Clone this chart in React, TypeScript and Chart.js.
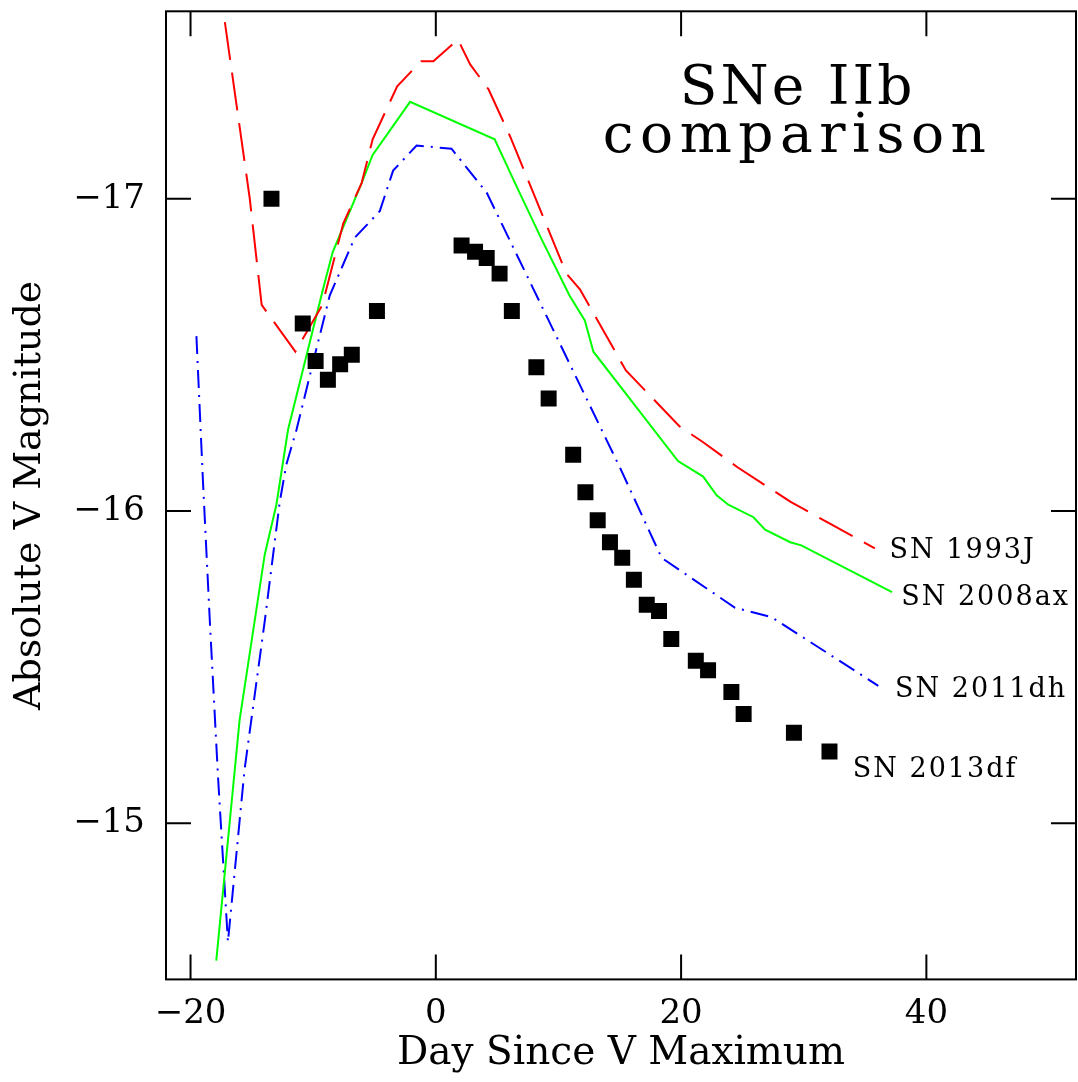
import React, { useEffect, useRef } from 'react';
import { Chart, registerables } from 'chart.js';

Chart.register(...registerables);

// SN 1993J (red dashed)
const sn1993jDays = [-17.2, -15.17, -14.2, -11.45, -9.25, -7.55, -6.05, -5.15, -3.15, -1.2, -0.2, 1.8, 2.8, 4.3, 6.05, 10.65, 11.75, 15.5, 19.9, 21.8, 24.6, 28.9, 32.1, 35.8];
const sn1993jMag = [-17.565, -17.0, -16.66, -16.51, -16.66, -16.92, -17.05, -17.19, -17.36, -17.44, -17.44, -17.51, -17.43, -17.35, -17.2, -16.76, -16.71, -16.45, -16.27, -16.22, -16.14, -16.03, -15.96, -15.88];

// SN 2008ax (green solid)
const sn2008axDays = [-17.9, -16.0, -13.95, -13.0, -12.05, -9.2, -8.4, -6.05, -5.15, -2.1, 4.8, 6.7, 8.75, 10.9, 12.15, 12.85, 19.75, 21.8, 22.9, 23.85, 25.9, 26.85, 28.9, 29.8, 37.2];
const sn2008axMag = [-14.56, -15.33, -15.86, -16.02, -16.26, -16.71, -16.83, -17.05, -17.14, -17.31, -17.19, -17.03, -16.86, -16.69, -16.61, -16.51, -16.16, -16.11, -16.05, -16.02, -15.98, -15.94, -15.9, -15.89, -15.74];

// SN 2011dh (blue dash-dot)
const sn2011dhDays = [-19.52, -18.98, -18.43, -17.76, -16.95, -15.6, -13.94, -12.72, -12.18, -11.36, -9.73, -8.65, -6.61, -4.57, -3.48, -1.57, 1.28, 4.14, 15.0, 18.41, 24.4, 27.38, 36.08];
const sn2011dhMag = [-16.56, -16.09, -15.65, -15.15, -14.62, -15.17, -15.65, -16.03, -16.15, -16.26, -16.52, -16.69, -16.875, -16.96, -17.09, -17.17, -17.16, -17.02, -16.14, -15.85, -15.69, -15.66, -15.44];

// SN 2013df (black squares)
const sn2013dfDays = [-13.4, -10.85, -9.8, -8.8, -7.8, -6.85, -4.8, 2.1, 3.2, 4.15, 5.2, 6.2, 8.2, 9.2, 11.2, 12.2, 13.2, 14.2, 15.2, 16.15, 17.2, 18.2, 19.2, 21.2, 22.2, 24.1, 25.1, 29.2, 32.1];
const sn2013dfMag = [-17.0, -16.6, -16.48, -16.42, -16.47, -16.5, -16.64, -16.85, -16.83, -16.81, -16.76, -16.64, -16.46, -16.36, -16.18, -16.06, -15.97, -15.9, -15.85, -15.78, -15.7, -15.68, -15.59, -15.52, -15.49, -15.42, -15.35, -15.29, -15.23];

// Text annotations
const curveLabels = ['SN 1993J', 'SN 2008ax', 'SN 2011dh', 'SN 2013df'];
const curveLabelDays = [37.0, 37.95, 37.45, 34.0];
const curveLabelMags = [-15.848, -15.698, -15.405, -15.147];
const titleLines = ['SNe IIb', 'comparison'];
const titleDay = 29.5;
const titleMags = [-17.303, -17.151];

// Tick labels
const xTickLabels = [-20, 0, 20, 40];
const yTickLabels = [-17, -16, -15];

const FONT = '"DejaVu Serif", serif';

const zip = (xs: number[], ys: number[]) => xs.map((x, i) => ({ x, y: ys[i] }));
const near = (a: number, b: number) => Math.abs(a - b) < 1e-6;
const isMultiple = (v: number, step: number) => Math.abs(v / step - Math.round(v / step)) < 1e-6;
const fmt = (v: number) => (v < 0 ? '\u2212' + Math.abs(v) : String(v));

const PLOT_RIGHT_GAP = 2;

const framePlugin = {
  id: 'framePlugin',
  afterLayout(chart: any) {
    // keep the plot frame flush with the right side of the canvas
    const a = chart.chartArea;
    const xs = chart.scales.x;
    const right = chart.width - PLOT_RIGHT_GAP;
    a.right = right;
    a.width = a.right - a.left;
    xs.right = right;
    xs.width = xs.right - xs.left;
    xs.configure();
  },
  afterDraw(chart: any) {
    const { ctx, chartArea: a, scales } = chart;
    const xs = scales.x;
    const ys = scales.y;
    ctx.save();
    ctx.strokeStyle = '#000';
    ctx.lineWidth = 2;
    ctx.setLineDash([]);
    ctx.strokeRect(a.left, a.top, a.right - a.left, a.bottom - a.top);
    ctx.beginPath();
    xs.ticks.forEach((t: any) => {
      const v = t.value;
      if (!isMultiple(v, 5)) return;
      const len = isMultiple(v, 20) ? 25 : 12.5;
      const p = xs.getPixelForValue(v);
      ctx.moveTo(p, a.bottom);
      ctx.lineTo(p, a.bottom - len);
      ctx.moveTo(p, a.top);
      ctx.lineTo(p, a.top + len);
    });
    ys.ticks.forEach((t: any) => {
      const v = t.value;
      if (!isMultiple(v, 0.2)) return;
      const len = isMultiple(v, 1) ? 25 : 12.5;
      const p = ys.getPixelForValue(v);
      ctx.moveTo(a.left, p);
      ctx.lineTo(a.left + len, p);
      ctx.moveTo(a.right, p);
      ctx.lineTo(a.right - len, p);
    });
    ctx.stroke();

    ctx.fillStyle = '#000';
    ctx.textBaseline = 'alphabetic';
    ctx.textAlign = 'center';
    ctx.font = '55px ' + FONT;
    const titleSpacing = [3, 6.5];
    titleLines.forEach((s, i) => {
      (ctx as any).letterSpacing = titleSpacing[i] + 'px';
      ctx.fillText(s, xs.getPixelForValue(titleDay), ys.getPixelForValue(titleMags[i]));
    });

    ctx.textAlign = 'left';
    ctx.font = '27px ' + FONT;
    (ctx as any).letterSpacing = '2px';
    curveLabels.forEach((s, i) => {
      ctx.fillText(s, xs.getPixelForValue(curveLabelDays[i]), ys.getPixelForValue(curveLabelMags[i]));
    });
    (ctx as any).letterSpacing = '0px';
    ctx.restore();
  },
};

const zeroPadding = (scale: any) => {
  scale.paddingTop = 0;
  scale.paddingBottom = 0;
  scale.paddingLeft = 0;
  scale.paddingRight = 0;
};

export default function App() {
  const ref = useRef<HTMLCanvasElement | null>(null);

  useEffect(() => {
    document.body.style.margin = '0';
    const canvas = ref.current;
    if (!canvas) return;
    const chart = new Chart(canvas, {
      type: 'scatter',
      data: {
        datasets: [
          {
            label: 'SN 2013df',
            data: zip(sn2013dfDays, sn2013dfMag),
            showLine: false,
            pointStyle: 'rect',
            pointRadius: 11.3,
            pointBackgroundColor: '#000',
            pointBorderWidth: 0,
            pointBorderColor: '#000',
            order: 0,
          },
          {
            label: 'SN 1993J',
            data: zip(sn1993jDays, sn1993jMag),
            showLine: true,
            borderColor: '#ff0000',
            borderWidth: 2,
            borderDash: [38, 13],
            pointRadius: 0,
            fill: false,
            order: 1,
          },
          {
            label: 'SN 2008ax',
            data: zip(sn2008axDays, sn2008axMag),
            showLine: true,
            borderColor: '#00ff00',
            borderWidth: 2,
            pointRadius: 0,
            fill: false,
            order: 2,
          },
          {
            label: 'SN 2011dh',
            data: zip(sn2011dhDays, sn2011dhMag),
            showLine: true,
            borderColor: '#0000ff',
            borderWidth: 2,
            borderDash: [18, 7, 2, 7],
            pointRadius: 0,
            fill: false,
            order: 3,
          },
        ],
      },
      options: {
        animation: false,
        responsive: false,
        devicePixelRatio: 1,
        events: [],
        layout: { padding: { top: 7.5, right: 2, bottom: 0, left: 0 } },
        plugins: {
          legend: { display: false },
          tooltip: { enabled: false },
          title: { display: false },
        },
        scales: {
          x: {
            type: 'linear',
            min: -22,
            max: 52.2,
            grid: { display: false, drawTicks: false },
            border: { display: false },
            ticks: {
              stepSize: 5,
              includeBounds: false,
              autoSkip: false,
              maxRotation: 0,
              minRotation: 0,
              padding: 14,
              color: '#000',
              font: { family: FONT, size: 34 },
              callback: (value: any) => {
                const m = xTickLabels.find((t) => near(t, Number(value)));
                return m === undefined ? null : fmt(m);
              },
            },
            title: {
              display: true,
              text: 'Day Since V Maximum',
              color: '#000',
              font: { family: FONT, size: 39 },
              padding: { top: 0, bottom: 5 },
            },
            afterFit: (scale: any) => {
              scale.height = 102.6;
              zeroPadding(scale);
            },
          },
          y: {
            type: 'linear',
            min: -17.6,
            max: -14.5,
            reverse: true,
            grid: { display: false, drawTicks: false },
            border: { display: false },
            ticks: {
              stepSize: 0.2,
              includeBounds: false,
              autoSkip: false,
              padding: 21,
              color: '#000',
              font: { family: FONT, size: 34 },
              callback: (value: any) => {
                const m = yTickLabels.find((t) => near(t, Number(value)));
                return m === undefined ? null : fmt(m);
              },
            },
            title: {
              display: true,
              text: 'Absolute V Magnitude',
              color: '#000',
              font: { family: FONT, size: 38 },
              padding: { top: 7, bottom: 0 },
            },
            afterFit: (scale: any) => {
              scale.width = 166;
              zeroPadding(scale);
            },
          },
        },
      },
      plugins: [framePlugin],
    } as any);
    return () => chart.destroy();
  }, []);

  return (
    <div style={{ width: 1078, height: 1082, position: 'relative' }}>
      <canvas ref={ref} width={1078} height={1082} style={{ display: 'block' }} />
    </div>
  );
}
